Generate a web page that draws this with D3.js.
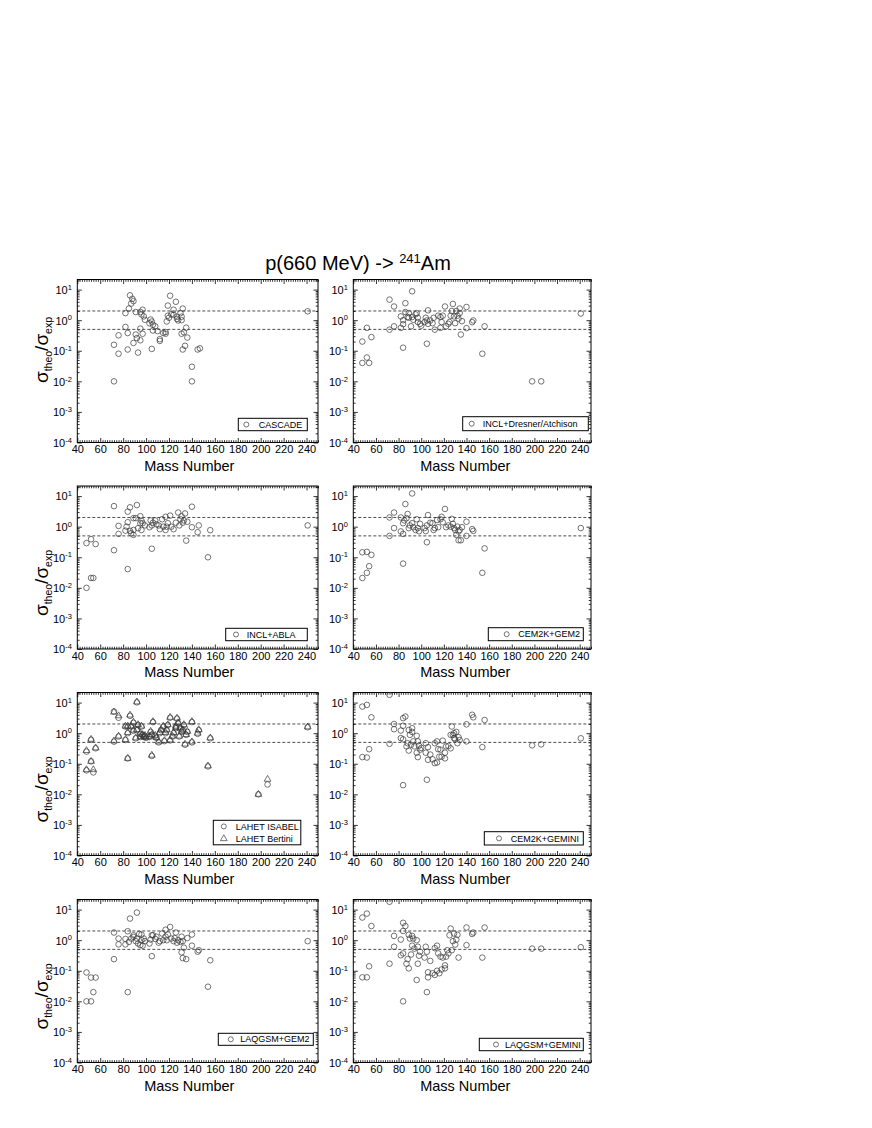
<!DOCTYPE html>
<html><head><meta charset="utf-8">
<script src="https://cdn.jsdelivr.net/npm/d3@7"></script>
<style>
body{margin:0;background:#fff}
text{font-family:"Liberation Sans",Arial,Helvetica,sans-serif;fill:#000}
</style>
</head><body>
<svg id="chart" width="872" height="1128"></svg>
<script>
// ---------- data: [mass number, sigma_theo/sigma_exp] ----------
const cascade = [[72,0.157],[72,0.01],[76,0.08],[76,0.32],[82,1.7],[82,0.6],[84,0.38],[84,0.11],[85,2.4],[86,6.5],[87,3.5],[88,5.0],[89,4.2],[89,0.18],[91,1.85],[91,0.34],[92,0.26],[93,0.087],[95,1.85],[95,0.53],[95,0.22],[96,1.55],[97,2.2],[97,0.36],[99,1.03],[98,1.33],[103,0.79],[104,1.05],[105,0.9],[106,0.71],[105,0.115],[106,0.46],[108,0.63],[110,0.44],[112,0.24],[112,0.21],[115,0.38],[117,0.41],[117,0.36],[118,0.91],[119,1.4],[119,3.0],[120,1.2],[121,6.3],[122,1.55],[124,2.2],[124,1.5],[126,4.0],[127,1.3],[127,1.1],[128,0.98],[130,1.7],[131,1.3],[131,1.0],[132,2.4],[131,0.36],[132,0.11],[133,0.4],[134,0.145],[135,0.57],[136,0.27],[140,0.03],[140,0.01],[145,0.11],[147,0.12],[241,1.95]];

const inclDresner = [[48,0.2],[48,0.04],[52,0.56],[52,0.06],[54,0.04],[56,0.28],[72,0.49],[72,4.7],[76,2.8],[76,0.63],[82,0.56],[82,1.33],[84,0.126],[84,0.74],[84,1.0],[86,3.6],[86,1.85],[88,1.27],[89,1.7],[89,1.2],[91,0.63],[92,8.8],[92,1.27],[93,1.03],[95,1.55],[96,1.7],[97,1.2],[97,0.87],[99,0.76],[100,0.66],[103,0.87],[104,1.2],[105,0.98],[105,0.17],[106,2.1],[106,0.76],[108,0.98],[110,0.8],[111,1.2],[112,0.49],[115,1.4],[117,0.56],[117,1.27],[118,0.87],[119,1.4],[121,2.8],[122,0.63],[124,0.76],[125,0.87],[126,1.4],[127,2.0],[128,3.4],[129,1.33],[130,0.8],[131,2.0],[132,1.4],[133,1.12],[134,2.4],[134,1.7],[135,0.34],[136,0.93],[140,2.7],[140,0.55],[145,0.86],[146,0.98],[154,0.08],[156,0.63],[198,0.01],[206,0.01],[241,1.65]];

const inclAbla = [[48,0.29],[48,0.01],[52,0.39],[52,0.021],[54,0.021],[56,0.27],[72,0.17],[72,4.7],[76,1.06],[76,0.58],[82,0.74],[83,1.0],[84,1.4],[84,3.1],[84,0.041],[86,4.3],[86,0.73],[87,0.61],[89,1.9],[89,0.54],[89,0.78],[91,1.9],[92,5.1],[93,0.89],[95,2.2],[95,1.3],[96,0.78],[96,1.56],[97,1.3],[99,1.1],[103,0.96],[104,1.6],[105,1.1],[105,0.19],[106,1.35],[108,1.6],[109,1.2],[111,1.1],[112,0.83],[114,1.75],[115,1.0],[117,0.78],[117,2.1],[118,1.0],[119,1.3],[121,2.3],[122,1.0],[124,0.83],[126,1.35],[128,2.9],[129,1.1],[130,1.75],[131,2.2],[132,1.35],[133,1.6],[134,2.7],[135,0.35],[136,1.45],[140,4.5],[140,0.96],[145,0.66],[146,1.1],[154,0.1],[156,0.77],[241,1.1]];

const cemGem2 = [[48,0.021],[48,0.145],[52,0.031],[52,0.15],[54,0.051],[56,0.12],[72,0.5],[72,2.0],[76,2.9],[76,0.9],[82,0.7],[82,2.0],[84,0.062],[84,0.58],[84,1.3],[85,1.6],[86,5.5],[87,1.9],[88,2.6],[89,0.9],[90,1.1],[92,12.2],[92,1.3],[93,0.96],[95,0.78],[96,1.75],[97,0.9],[98,0.71],[99,1.24],[103,0.9],[104,0.72],[105,1.1],[105,0.31],[106,2.4],[108,1.35],[110,1.3],[111,0.78],[112,0.9],[114,1.65],[115,0.96],[117,1.75],[118,2.1],[119,1.4],[121,3.8],[122,0.96],[124,1.1],[126,1.0],[127,1.8],[128,1.24],[129,0.9],[130,0.78],[131,0.54],[132,1.0],[133,0.36],[133,0.7],[134,0.78],[135,0.36],[136,0.96],[140,0.5],[140,1.45],[145,0.83],[146,0.73],[154,0.031],[156,0.195],[241,0.9]];

const lahetIsabel = [[48,0.061],[48,0.25],[52,0.12],[52,0.61],[54,0.052],[56,0.32],[72,0.53],[72,5.1],[76,3.2],[76,0.78],[82,1.65],[82,0.6],[84,0.15],[84,1.0],[84,1.65],[86,3.7],[87,1.65],[89,2.2],[89,1.2],[91,0.68],[92,10.2],[92,1.25],[93,1.85],[95,0.95],[95,0.75],[96,1.65],[97,0.88],[98,0.75],[99,0.82],[100,0.7],[103,0.75],[104,1.1],[105,0.88],[105,0.18],[106,2.3],[108,0.82],[109,0.7],[111,0.5],[112,1.0],[113,1.25],[115,1.65],[116,0.55],[117,1.0],[118,1.25],[119,1.85],[121,3.2],[121,0.58],[123,0.78],[124,1.0],[126,1.45],[126,1.65],[127,3.0],[128,2.1],[129,0.78],[130,1.45],[131,1.1],[132,1.25],[133,1.85],[134,0.42],[135,0.88],[136,1.1],[140,2.3],[140,0.5],[145,0.95],[146,1.25],[154,0.082],[156,0.68],[198,0.01],[206,0.021],[241,1.57]];

const lahetBertini = [[48,0.064],[48,0.27],[52,0.12],[52,0.63],[54,0.064],[56,0.33],[72,0.56],[72,4.9],[76,3.7],[76,0.8],[82,1.7],[82,0.62],[84,0.15],[84,1.05],[84,1.7],[86,3.9],[87,1.7],[89,2.3],[89,1.25],[91,0.7],[92,10.5],[92,1.3],[93,1.9],[95,1.0],[95,0.78],[96,1.7],[97,0.9],[98,0.78],[99,0.85],[100,0.72],[103,0.78],[104,1.15],[105,0.9],[105,0.19],[106,2.4],[108,0.85],[109,0.72],[111,0.52],[112,1.05],[113,1.3],[115,1.7],[116,0.57],[117,1.05],[118,1.3],[119,1.9],[121,3.3],[121,0.6],[123,0.8],[124,1.05],[126,1.5],[126,1.7],[127,3.1],[128,2.2],[129,0.8],[130,1.5],[131,1.15],[132,1.3],[133,1.9],[134,0.44],[135,0.9],[136,1.15],[140,2.4],[140,0.52],[145,1.0],[146,1.3],[154,0.085],[156,0.7],[198,0.01],[206,0.031],[241,1.6]];

const cemGemini = [[48,7.4],[48,0.165],[52,8.4],[52,0.16],[54,0.3],[56,3.3],[72,18],[72,0.45],[76,2.0],[76,1.35],[82,1.22],[82,0.69],[84,3.1],[84,1.75],[84,0.02],[84,0.63],[86,3.5],[87,0.37],[88,0.47],[89,1.27],[89,0.27],[90,0.88],[91,0.42],[92,1.45],[92,1.1],[93,0.54],[94,0.37],[96,0.82],[96,0.23],[97,0.165],[97,0.54],[98,0.39],[99,0.29],[100,0.33],[104,0.47],[104,0.23],[105,0.03],[106,0.135],[106,0.35],[108,0.2],[110,0.14],[112,0.105],[112,0.47],[114,0.54],[114,0.11],[115,0.3],[116,0.17],[117,0.29],[118,0.17],[119,0.57],[121,0.15],[121,0.23],[122,0.37],[124,0.38],[126,0.88],[127,1.65],[126,0.32],[128,0.88],[129,0.69],[129,1.0],[130,0.63],[131,1.1],[132,0.47],[133,0.74],[134,0.6],[140,1.95],[140,0.54],[145,4.0],[146,3.3],[154,0.35],[156,2.7],[198,0.4],[206,0.43],[241,0.68]];

const laqgsmGem2 = [[48,0.088],[48,0.01],[52,0.01],[52,0.06],[54,0.02],[56,0.06],[72,0.24],[72,1.78],[76,1.13],[76,0.73],[82,0.73],[82,1.1],[84,1.96],[84,0.02],[85,0.88],[86,5.1],[87,1.13],[89,1.45],[89,1.28],[91,0.93],[92,8.0],[92,1.13],[93,0.78],[94,1.6],[95,0.69],[96,1.0],[96,1.53],[97,0.66],[98,1.13],[99,0.93],[103,0.78],[104,1.05],[105,1.45],[105,0.3],[106,1.45],[108,1.1],[109,1.3],[111,0.83],[112,0.93],[114,1.65],[115,1.0],[117,1.3],[117,2.2],[118,1.0],[119,1.53],[121,2.7],[122,1.13],[124,0.93],[125,1.17],[126,1.78],[127,0.83],[128,1.0],[130,0.88],[131,0.4],[131,1.3],[132,0.26],[132,0.93],[133,0.57],[135,0.24],[136,1.17],[140,1.53],[140,0.66],[145,0.42],[146,0.47],[154,0.03],[156,0.22],[241,0.93]];

const laqgsmGemini = [[48,5.5],[48,0.061],[52,7.4],[52,0.061],[54,0.14],[56,2.9],[72,18],[72,0.17],[76,1.38],[76,0.61],[82,1.05],[82,0.32],[84,3.7],[84,2.0],[84,0.01],[84,0.37],[86,2.9],[87,0.17],[88,0.24],[89,1.5],[89,0.12],[90,1.13],[91,0.34],[92,1.38],[92,0.66],[93,1.13],[94,0.53],[96,1.0],[96,0.05],[97,0.17],[97,0.61],[98,0.31],[99,0.42],[103,0.27],[104,0.61],[105,0.42],[105,0.02],[106,0.089],[106,0.061],[108,0.21],[110,0.083],[112,0.073],[112,0.55],[114,0.66],[114,0.1],[115,0.37],[116,0.083],[117,0.29],[118,0.11],[119,0.27],[121,0.15],[121,0.12],[122,0.29],[123,0.47],[124,0.37],[125,1.45],[126,2.4],[127,0.47],[128,0.93],[129,1.65],[130,0.72],[131,1.05],[132,1.5],[133,0.27],[140,2.6],[140,0.69],[145,1.6],[146,1.78],[154,0.27],[156,2.6],[198,0.53],[206,0.53],[241,0.59]];

const modelNames = ["CASCADE","INCL+Dresner/Atchison","INCL+ABLA","CEM2K+GEM2","LAHET ISABEL","CEM2K+GEMINI","LAQGSM+GEM2","LAQGSM+GEMINI"];
const bertiniName = "LAHET Bertini";
const xTickValues = [40,60,80,100,120,140,160,180,200,220,240];
const yTickExponents = [-4,-3,-2,-1,0,1];
const refLines = [2, 0.5];
const titleMain = "p(660 MeV) -> ", titleSup = "241", titleEnd = "Am";
const xLabel = "Mass Number";

// ---------- layout ----------
const colLeft = [77.3, 353.3], colWidth = [240.7, 237.7];
const rowTop = [279.5, 486, 692.5, 899.5], plotH = 163;
const xDomain = [40, 250], yDomain = [1e-4, 21.4];
// legend: [left, top (relative to plot), width, height, marker dx, text dx]
const legendLayout = [
  [161, 138.8, 69, 12.4, 8, 20.5],
  [109.4, 137.2, 125.6, 14, 9, 20],
  [148.4, 142.3, 81.6, 12.4, 10.3, 21],
  [135, 141.7, 95, 13, 18.4, 30],
  [136, 127.8, 87.5, 24.5, 10.5, 22.5],
  [131, 139.2, 99, 13.3, 14.7, 26.4],
  [141, 133.8, 95, 12, 12.5, 22],
  [126, 138.8, 104, 12.4, 16.7, 25.7]
];

const svg = d3.select("#chart");
const defs = svg.append("defs");
const datasets = [cascade, inclDresner, inclAbla, cemGem2, lahetIsabel, cemGemini, laqgsmGem2, laqgsmGemini];

// title
const title = svg.append("text").attr("x", 358).attr("y", 270).attr("text-anchor", "middle").style("font-size", "20px");
title.append("tspan").text(titleMain);
title.append("tspan").attr("dy", -7).style("font-size", "13px").text(titleSup);
title.append("tspan").attr("dy", 7).text(titleEnd);

const stroke = "#3a3a3a";

datasets.forEach((data, i) => {
  const row = Math.floor(i / 2), col = i % 2;
  const x0 = colLeft[col], w = colWidth[col], y0 = rowTop[row];
  const x = d3.scaleLinear().domain(xDomain).range([x0, x0 + w]);
  const y = d3.scaleLog().domain(yDomain).range([y0 + plotH, y0]);
  const g = svg.append("g");

  const clipId = "clip" + i;
  defs.append("clipPath").attr("id", clipId).append("rect")
    .attr("x", x0).attr("y", y0).attr("width", w).attr("height", plotH);

  // minor/major ticks (inward, all four sides)
  const minorX = d3.range(40, 251, 2).filter(v => v % 20 !== 0);
  const minorY = [];
  for (let e = -4; e <= 1; e++) for (let k = 2; k <= 9; k++) { const v = k * Math.pow(10, e); if (v < yDomain[1]) minorY.push(v); }
  const majorY = yTickExponents.map(e => Math.pow(10, e));

  const axB = g.append("g").attr("transform", `translate(0,${y0 + plotH})`)
    .call(d3.axisBottom(x).tickValues(xTickValues).tickSize(-4.5).tickSizeOuter(0).tickPadding(3).tickFormat(d3.format("d")));
  axB.selectAll("text").style("font-size", "11px").style("font-family", "'Liberation Sans',Arial,sans-serif");
  g.append("g").attr("transform", `translate(0,${y0 + plotH})`)
    .call(d3.axisBottom(x).tickValues(minorX).tickSize(-2.3).tickSizeOuter(0).tickFormat(""));
  g.append("g").attr("transform", `translate(0,${y0})`)
    .call(d3.axisTop(x).tickValues(xTickValues).tickSize(-4.5).tickSizeOuter(0).tickFormat(""));
  g.append("g").attr("transform", `translate(0,${y0})`)
    .call(d3.axisTop(x).tickValues(minorX).tickSize(-2.3).tickSizeOuter(0).tickFormat(""));

  const axL = g.append("g").attr("transform", `translate(${x0},0)`)
    .call(d3.axisLeft(y).tickValues(majorY).tickSize(-4.5).tickSizeOuter(0).tickPadding(5).tickFormat(""));
  axL.selectAll(".tick").append("text")
    .attr("x", -5.5).attr("dy", "0.35em").attr("text-anchor", "end")
    .style("font-size", "11px").style("fill", "#000")
    .each(function(d) {
      const t = d3.select(this);
      t.append("tspan").text("10");
      t.append("tspan").attr("dy", "-0.55em").style("font-size", "7.5px").text(String(Math.round(Math.log10(d))));
    });
  g.append("g").attr("transform", `translate(${x0},0)`)
    .call(d3.axisLeft(y).tickValues(minorY).tickSize(-2.3).tickSizeOuter(0).tickFormat(""));
  g.append("g").attr("transform", `translate(${x0 + w},0)`)
    .call(d3.axisRight(y).tickValues(majorY).tickSize(-4.5).tickSizeOuter(0).tickFormat(""));
  g.append("g").attr("transform", `translate(${x0 + w},0)`)
    .call(d3.axisRight(y).tickValues(minorY).tickSize(-2.3).tickSizeOuter(0).tickFormat(""));
  g.selectAll(".domain").remove();
  g.selectAll(".tick line").attr("stroke", "#000").attr("stroke-width", 0.8);

  // frame
  g.append("rect").attr("x", x0).attr("y", y0).attr("width", w).attr("height", plotH)
    .attr("fill", "none").attr("stroke", "#000").attr("stroke-width", 1);

  // reference lines
  g.selectAll(".ref").data(refLines).enter().append("line")
    .attr("x1", x0).attr("x2", x0 + w).attr("y1", d => y(d)).attr("y2", d => y(d))
    .attr("stroke", "#000").attr("stroke-width", 0.7).attr("stroke-dasharray", "3,2");

  // points
  const pg = g.append("g").attr("clip-path", `url(#${clipId})`);
  pg.selectAll("circle").data(data).enter().append("circle")
    .attr("cx", d => x(d[0])).attr("cy", d => y(d[1])).attr("r", 2.8)
    .attr("fill", "none").attr("stroke", stroke).attr("stroke-width", 0.7);
  if (i === 4) {
    pg.selectAll("path.tri").data(lahetBertini).enter().append("path").attr("class", "tri")
      .attr("d", d3.symbol(d3.symbolTriangle, 20)())
      .attr("transform", d => `translate(${x(d[0])},${y(d[1])})`)
      .attr("fill", "none").attr("stroke", stroke).attr("stroke-width", 0.7);
  }

  // x label
  g.append("text").attr("x", x0 + 112).attr("y", y0 + plotH + 28).attr("text-anchor", "middle")
    .style("font-size", "14.5px").text(xLabel);

  // y label (left column only)
  if (col === 0) {
    const cy = row === 0 ? 350 : y0 + 97;
    const yl = g.append("text").attr("transform", `translate(48,${cy}) rotate(-90)`).attr("text-anchor", "middle").style("font-size", "19px");
    yl.append("tspan").text("σ");
    yl.append("tspan").attr("dy", 4).style("font-size", "10.5px").text("theo");
    yl.append("tspan").attr("dy", -4).text("/σ");
    yl.append("tspan").attr("dy", 4).style("font-size", "10.5px").text("exp");
  }

  // legend
  const L = legendLayout[i];
  const lx = x0 + L[0], ly = y0 + L[1];
  g.append("rect").attr("x", lx).attr("y", ly).attr("width", L[2]).attr("height", L[3])
    .attr("fill", "#fff").attr("stroke", "#000").attr("stroke-width", 1);
  const entries = i === 4 ? [[modelNames[i], "c"], [bertiniName, "t"]] : [[modelNames[i], "c"]];
  const rowH = L[3] / entries.length;
  entries.forEach((e, k) => {
    const cyL = ly + rowH * (k + 0.5);
    if (e[1] === "c") {
      g.append("circle").attr("cx", lx + L[4]).attr("cy", cyL).attr("r", 2.5)
        .attr("fill", "none").attr("stroke", stroke).attr("stroke-width", 0.7);
    } else {
      g.append("path").attr("d", d3.symbol(d3.symbolTriangle, 20)())
        .attr("transform", `translate(${lx + L[4]},${cyL})`)
        .attr("fill", "none").attr("stroke", stroke).attr("stroke-width", 0.7);
    }
    g.append("text").attr("x", lx + L[5]).attr("y", cyL).attr("dy", "0.35em")
      .style("font-size", "9px").text(e[0]);
  });
});
</script>
</body></html>
